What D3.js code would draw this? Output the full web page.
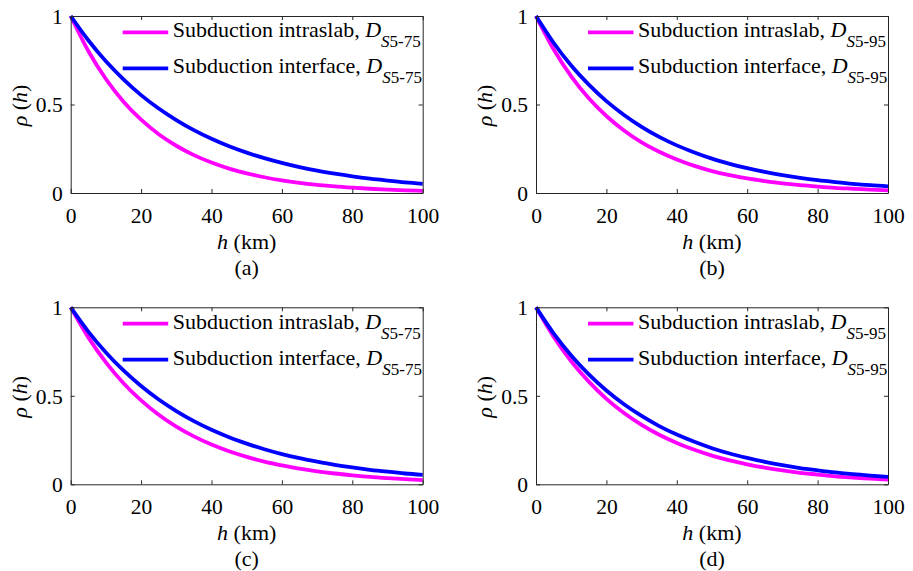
<!DOCTYPE html>
<html>
<head>
<meta charset="utf-8">
<script src="https://cdn.jsdelivr.net/npm/d3@7"></script>
<style>
  html, body { margin: 0; padding: 0; background: #fff; }
  svg { display: block; }
</style>
</head>
<body>
<svg id="fig" width="913" height="571"></svg>
<script>
// Separation distance h (km)
const distance = [0, 5, 10, 15, 20, 25, 30, 35, 40, 45, 50, 55, 60, 65, 70, 75, 80, 85, 90, 95, 100];

// Correlation coefficient rho(h) for each panel
const intraslabA = [1, 0.802, 0.644, 0.516, 0.414, 0.332, 0.267, 0.214, 0.172, 0.138, 0.111, 0.089, 0.071, 0.057, 0.046, 0.037, 0.030, 0.024, 0.019, 0.015, 0.012];
const interfaceA = [1, 0.863, 0.744, 0.642, 0.553, 0.477, 0.412, 0.355, 0.306, 0.264, 0.228, 0.197, 0.170, 0.146, 0.126, 0.109, 0.094, 0.081, 0.070, 0.060, 0.052];
const intraslabB = [1, 0.812, 0.659, 0.535, 0.435, 0.353, 0.286, 0.233, 0.189, 0.153, 0.124, 0.101, 0.082, 0.067, 0.054, 0.044, 0.036, 0.029, 0.024, 0.019, 0.015];
const interfaceB = [1, 0.849, 0.720, 0.612, 0.519, 0.441, 0.374, 0.317, 0.269, 0.229, 0.194, 0.165, 0.140, 0.119, 0.101, 0.086, 0.073, 0.062, 0.052, 0.044, 0.038];
const intraslabC = [1, 0.830, 0.689, 0.571, 0.474, 0.393, 0.326, 0.271, 0.225, 0.187, 0.155, 0.128, 0.107, 0.088, 0.073, 0.061, 0.051, 0.042, 0.035, 0.029, 0.024];
const interfaceC = [1, 0.863, 0.745, 0.643, 0.555, 0.479, 0.414, 0.357, 0.308, 0.266, 0.230, 0.198, 0.171, 0.148, 0.128, 0.110, 0.095, 0.082, 0.071, 0.061, 0.053];
const intraslabD = [1, 0.834, 0.695, 0.580, 0.483, 0.403, 0.336, 0.280, 0.234, 0.195, 0.162, 0.135, 0.113, 0.094, 0.078, 0.065, 0.055, 0.045, 0.038, 0.032, 0.026];
const interfaceD = [1, 0.853, 0.728, 0.621, 0.530, 0.452, 0.386, 0.329, 0.281, 0.240, 0.204, 0.174, 0.149, 0.127, 0.108, 0.092, 0.079, 0.067, 0.057, 0.049, 0.042];

// Axis ticks
const xTicks = [0, 20, 40, 60, 80, 100];
const yTicks = [0, 0.5, 1];
const yTickLabels = ["0", "0.5", "1"];

// Legend entries and panel tags
const seriesNames = ["Subduction intraslab, ", "Subduction interface, "];
const seriesColors = ["#ff00ff", "#0000ff"];
const durationTags = ["5-75", "5-95", "5-75", "5-95"];
const panelTags = ["(a)", "(b)", "(c)", "(d)"];
const panelSeries = [
  [intraslabA, interfaceA],
  [intraslabB, interfaceB],
  [intraslabC, interfaceC],
  [intraslabD, interfaceD]
];

const FONT = '"Liberation Serif"';
const FS = 22, TICK_FS = 21.5, SUB = 17;
const svg = d3.select("#fig");
const plotW = 352, plotH = 177;
const origins = [[70.7, 16], [536, 16], [70.7, 307.3], [536, 307.3]];
const axisColor = "#262626";

function label(sel, size) {
  return sel.style("font-family", FONT).style("font-size", size + "px").attr("fill", "#000");
}

panelSeries.forEach((series, i) => {
  const [ox, oy] = origins[i];
  const g = svg.append("g").attr("transform", `translate(${ox},${oy})`);
  const x = d3.scaleLinear().domain([0, 100]).range([0, plotW]);
  const y = d3.scaleLinear().domain([0, 1]).range([plotH, 0]);

  // curves
  const line = d3.line()
    .x((d, k) => x(distance[k]))
    .y(d => y(d))
    .curve(d3.curveMonotoneX);
  series.forEach((vals, s) => {
    g.append("path")
      .datum(vals)
      .attr("d", line)
      .attr("fill", "none")
      .attr("stroke", seriesColors[s])
      .attr("stroke-width", 3.8);
  });

  // box axes with inward ticks on all four sides
  const tickLen = 4;
  const bottom = d3.axisBottom(x).tickValues(xTicks).tickSizeInner(-tickLen).tickSizeOuter(0).tickPadding(12);
  const top = d3.axisTop(x).tickValues(xTicks).tickSizeInner(-tickLen).tickSizeOuter(0).tickFormat("");
  const left = d3.axisLeft(y).tickValues(yTicks).tickSizeInner(-tickLen).tickSizeOuter(0).tickPadding(8)
    .tickFormat((d, k) => yTickLabels[k]);
  const right = d3.axisRight(y).tickValues(yTicks).tickSizeInner(-tickLen).tickSizeOuter(0).tickFormat("");

  const gb = g.append("g").attr("transform", `translate(0,${plotH})`).call(bottom);
  const gt = g.append("g").call(top);
  const gl = g.append("g").call(left);
  const gr = g.append("g").attr("transform", `translate(${plotW},0)`).call(right);
  [gb, gt, gl, gr].forEach(a => {
    a.attr("font-family", null).attr("font-size", null);
    a.select(".domain").attr("stroke", axisColor).attr("stroke-width", 1);
    a.selectAll(".tick line").attr("stroke", axisColor).attr("stroke-width", 1);
    label(a.selectAll(".tick text"), TICK_FS);
  });
  gb.selectAll(".tick text").attr("dy", null).attr("y", 29.5);
  gl.selectAll(".tick text").attr("dy", "0.34em");

  // legend
  series.forEach((vals, s) => {
    const ly = 16.3 + s * 36;
    g.append("line")
      .attr("x1", 52).attr("x2", 97.5)
      .attr("y1", ly).attr("y2", ly)
      .attr("stroke", seriesColors[s])
      .attr("stroke-width", 3.8);
    const t = label(g.append("text"), FS)
      .attr("x", 102)
      .attr("y", ly + 5);
    t.append("tspan").text(seriesNames[s]);
    t.append("tspan").style("font-style", "italic").text("D");
    t.append("tspan").style("font-style", "italic").style("font-size", SUB + "px").attr("dy", 10).text("S");
    t.append("tspan").style("font-size", SUB + "px").text(durationTags[i]);
  });

  // axis titles
  const xt = label(g.append("text"), FS)
    .attr("x", plotW / 2)
    .attr("y", plotH + 56)
    .attr("text-anchor", "middle");
  xt.append("tspan").style("font-style", "italic").text("h");
  xt.append("tspan").text(" (km)");

  const yt = label(g.append("text"), FS)
    .attr("transform", `translate(-44,${plotH / 2 + 1}) rotate(-90)`)
    .attr("text-anchor", "middle");
  yt.append("tspan").style("font-style", "italic").text("ρ");
  yt.append("tspan").text(" (");
  yt.append("tspan").style("font-style", "italic").text("h");
  yt.append("tspan").text(")");

  label(g.append("text"), FS)
    .attr("x", plotW / 2)
    .attr("y", plotH + 81.5)
    .attr("text-anchor", "middle")
    .text(panelTags[i]);
});
</script>
</body>
</html>
